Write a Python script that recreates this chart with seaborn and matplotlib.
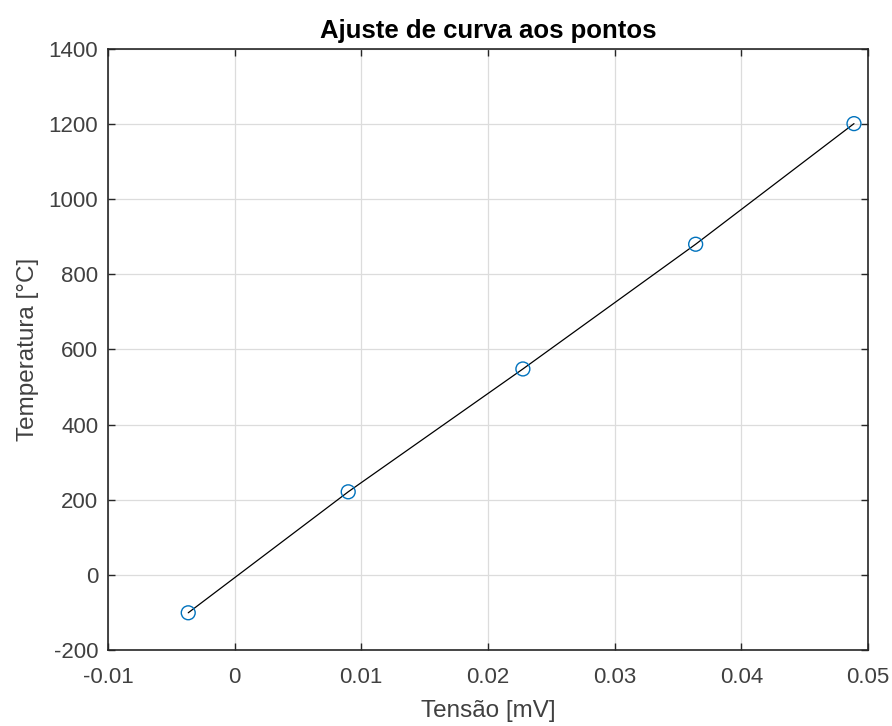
import matplotlib
matplotlib.use("Agg")
import matplotlib.pyplot as plt
import numpy as np
import pandas as pd
import seaborn as sns

# values
tensao = [-0.00366, 0.00897, 0.02276, 0.0364, 0.0489]
temperatura = [-101, 221, 548, 880, 1201]

x_ticks = [-0.01, 0, 0.01, 0.02, 0.03, 0.04, 0.05]
x_labels = ["-0.01", "0", "0.01", "0.02", "0.03", "0.04", "0.05"]
y_ticks = [-200, 0, 200, 400, 600, 800, 1000, 1200, 1400]
y_labels = ["-200", "0", "200", "400", "600", "800", "1000", "1200", "1400"]

df = pd.DataFrame({"Tensao": tensao, "Temperatura": temperatura})

sns.set_theme(style="white")
plt.rcParams["font.family"] = ["Liberation Sans", "DejaVu Sans"]
plt.rcParams["axes.unicode_minus"] = False

fig = plt.figure(figsize=(8.92, 7.26), dpi=100)
ax = fig.add_axes([0.121, 0.1047, 0.852, 0.828])

sns.lineplot(data=df, x="Tensao", y="Temperatura", color="black", linewidth=0.9,
             ax=ax, zorder=3)
sns.scatterplot(data=df, x="Tensao", y="Temperatura", ax=ax, marker="o", s=100,
                facecolors="none", edgecolor="#0072BD", linewidth=1.0, zorder=4)

ax.set_xlim(-0.01, 0.05)
ax.set_ylim(-200, 1400)
ax.set_xticks(x_ticks)
ax.set_xticklabels(x_labels)
ax.set_yticks(y_ticks)
ax.set_yticklabels(y_labels)
ax.grid(True, color="#dcdcdc", linewidth=0.9)
ax.set_axisbelow(True)
ax.tick_params(direction="in", length=5, width=1.0, colors="#262626",
               labelsize=16, labelcolor="#404040", top=True, right=True,
               bottom=True, left=True)
ax.tick_params(axis="x", pad=12)
ax.tick_params(axis="y", pad=7)
for sp in ax.spines.values():
    sp.set_color("#262626")
    sp.set_linewidth(1.2)

ax.set_xlabel("Tensão [mV]", fontsize=17.5, color="#404040", labelpad=9)
ax.set_ylabel("Temperatura [°C]", fontsize=17.5, color="#404040", labelpad=7)
ax.set_title("Ajuste de curva aos pontos", fontsize=18.5, fontweight="bold",
             color="black", pad=8)

fig.savefig("out.png", dpi=100)
